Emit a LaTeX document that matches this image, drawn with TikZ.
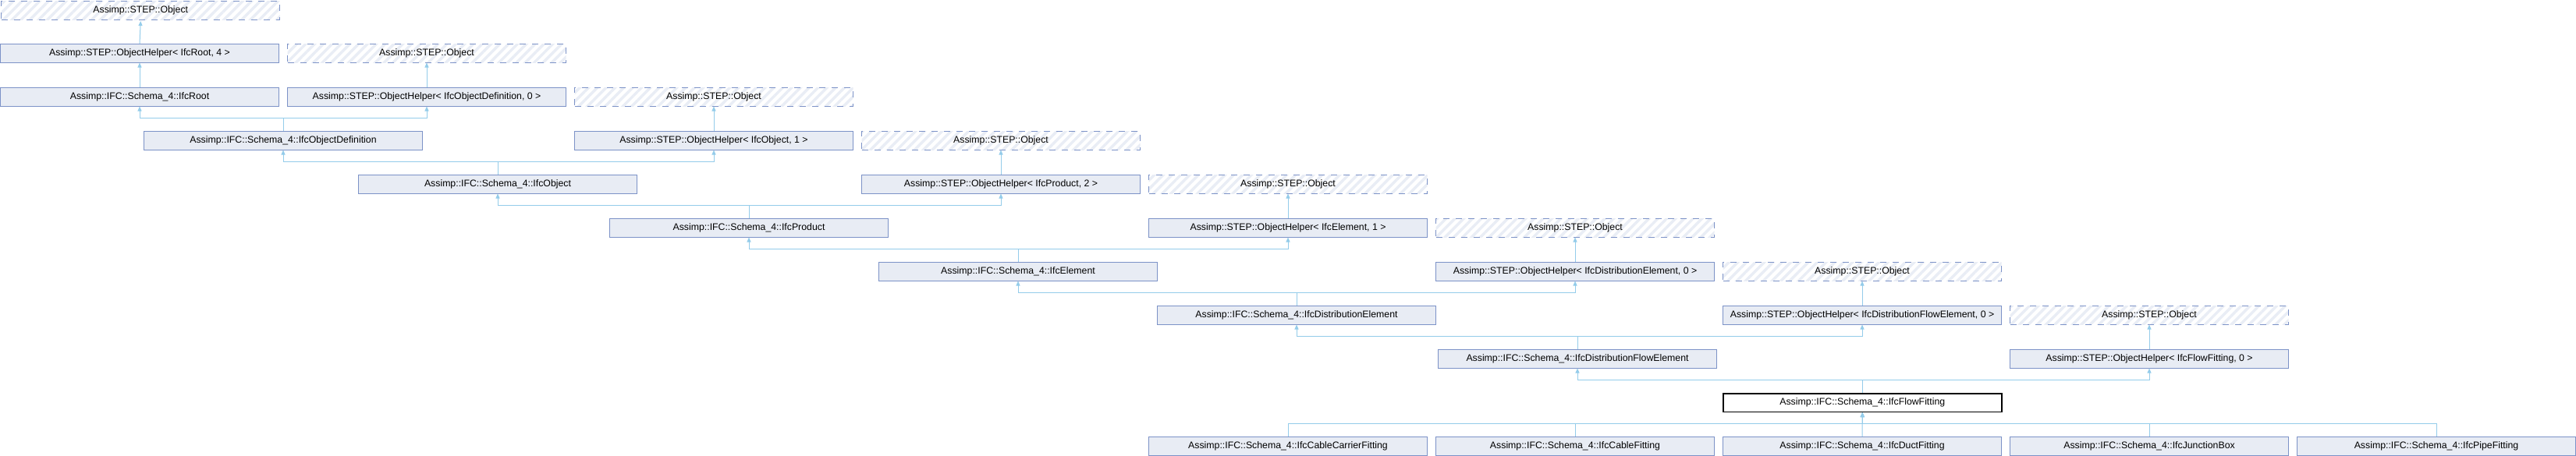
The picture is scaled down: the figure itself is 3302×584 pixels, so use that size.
\documentclass[tikz,border=0pt]{standalone}
\usepackage{fontspec}
\setmainfont{Liberation Sans}
\usepackage{tikz}
\usetikzlibrary{arrows.meta,positioning,calc,patterns.meta}

\definecolor{boxfill}{RGB}{232,236,244}
\definecolor{boxdraw}{RGB}{124,146,199}
\definecolor{edgeblue}{RGB}{148,204,234}
\definecolor{hatch}{RGB}{233,237,245}

\begin{document}
\begin{tikzpicture}[x=1pt,y=-1pt,
  font=\fontsize{12.3}{14}\selectfont,
  box/.style={draw=boxdraw,fill=boxfill,line width=1pt,minimum width=357pt,
    minimum height=23.5pt,inner sep=0pt,anchor=north west},
  extbox/.style={box,fill=none,dash pattern=on 8pt off 8pt,
    pattern={Lines[angle=45,distance=8pt,line width=3.5pt]},pattern color=hatch},
  curbox/.style={box,draw=black,fill=white,line width=1.5pt},
  edge/.style={draw=edgeblue,line width=1pt},
  inh/.style={edge,-{Triangle[width=5pt,length=6pt]}}]
\useasboundingbox (0,0) rectangle (3302,584);

% Row 0-2: roots
\node[extbox] (obj0) at (0,0) {Assimp::STEP::Object};
\node[box] (helperRoot) at (0,56) {Assimp::STEP::ObjectHelper< IfcRoot, 4 >};
\node[extbox] (obj1) at (368,56) {Assimp::STEP::Object};
\node[box] (ifcRoot) at (0,112) {Assimp::IFC::Schema\_4::IfcRoot};
\node[box] (helperObjDef) at (368,112) {Assimp::STEP::ObjectHelper< IfcObjectDefinition, 0 >};
\node[extbox] (obj2) at (736,112) {Assimp::STEP::Object};

% Row 3-5
\node[box] (ifcObjDef) at (184,168) {Assimp::IFC::Schema\_4::IfcObjectDefinition};
\node[box] (helperObject) at (736,168) {Assimp::STEP::ObjectHelper< IfcObject, 1 >};
\node[extbox] (obj3) at (1104,168) {Assimp::STEP::Object};
\node[box] (ifcObject) at (459,224) {Assimp::IFC::Schema\_4::IfcObject};
\node[box] (helperProduct) at (1104,224) {Assimp::STEP::ObjectHelper< IfcProduct, 2 >};
\node[extbox] (obj4) at (1472,224) {Assimp::STEP::Object};
\node[box] (ifcProduct) at (781,280) {Assimp::IFC::Schema\_4::IfcProduct};
\node[box] (helperElement) at (1472,280) {Assimp::STEP::ObjectHelper< IfcElement, 1 >};
\node[extbox] (obj5) at (1840,280) {Assimp::STEP::Object};

% Row 6-8
\node[box] (ifcElement) at (1126,336) {Assimp::IFC::Schema\_4::IfcElement};
\node[box] (helperDistElem) at (1840,336) {Assimp::STEP::ObjectHelper< IfcDistributionElement, 0 >};
\node[extbox] (obj6) at (2208,336) {Assimp::STEP::Object};
\node[box] (ifcDistElem) at (1483,392) {Assimp::IFC::Schema\_4::IfcDistributionElement};
\node[box] (helperDistFlow) at (2208,392) {Assimp::STEP::ObjectHelper< IfcDistributionFlowElement, 0 >};
\node[extbox] (obj7) at (2576,392) {Assimp::STEP::Object};
\node[box] (ifcDistFlow) at (1843,448) {Assimp::IFC::Schema\_4::IfcDistributionFlowElement};
\node[box] (helperFlowFit) at (2576,448) {Assimp::STEP::ObjectHelper< IfcFlowFitting, 0 >};

% Row 9: this class
\node[curbox] (ifcFlowFit) at (2208,504) {Assimp::IFC::Schema\_4::IfcFlowFitting};

% Row 10: derived classes
\node[box] (cableCarrier) at (1472,560) {Assimp::IFC::Schema\_4::IfcCableCarrierFitting};
\node[box] (cableFit) at (1840,560) {Assimp::IFC::Schema\_4::IfcCableFitting};
\node[box] (ductFit) at (2208,560) {Assimp::IFC::Schema\_4::IfcDuctFitting};
\node[box] (junctionBox) at (2576,560) {Assimp::IFC::Schema\_4::IfcJunctionBox};
\node[box] (pipeFit) at (2944,560) {Assimp::IFC::Schema\_4::IfcPipeFitting};

% Helpers up to STEP::Object
\draw[inh] (helperRoot.north) -- (obj0.south);
\draw[inh] (helperObjDef.north) -- (obj1.south);
\draw[inh] (helperObject.north) -- (obj2.south);
\draw[inh] (helperProduct.north) -- (obj3.south);
\draw[inh] (helperElement.north) -- (obj4.south);
\draw[inh] (helperDistElem.north) -- (obj5.south);
\draw[inh] (helperDistFlow.north) -- (obj6.south);
\draw[inh] (helperFlowFit.north) -- (obj7.south);
\draw[inh] (ifcRoot.north) -- (helperRoot.south);

% Two parents each
\draw[inh] (ifcObjDef.north) -- ++(0,-16.25) -| (ifcRoot.south);
\draw[inh] (ifcObjDef.north) -- ++(0,-16.25) -| (helperObjDef.south);
\draw[inh] (ifcObject.north) -- ++(0,-16.25) -| (ifcObjDef.south);
\draw[inh] (ifcObject.north) -- ++(0,-16.25) -| (helperObject.south);
\draw[inh] (ifcProduct.north) -- ++(0,-16.25) -| (ifcObject.south);
\draw[inh] (ifcProduct.north) -- ++(0,-16.25) -| (helperProduct.south);
\draw[inh] (ifcElement.north) -- ++(0,-16.25) -| (ifcProduct.south);
\draw[inh] (ifcElement.north) -- ++(0,-16.25) -| (helperElement.south);
\draw[inh] (ifcDistElem.north) -- ++(0,-16.25) -| (ifcElement.south);
\draw[inh] (ifcDistElem.north) -- ++(0,-16.25) -| (helperDistElem.south);
\draw[inh] (ifcDistFlow.north) -- ++(0,-16.25) -| (ifcDistElem.south);
\draw[inh] (ifcDistFlow.north) -- ++(0,-16.25) -| (helperDistFlow.south);
\draw[inh] (ifcFlowFit.north) -- ++(0,-16.25) -| (ifcDistFlow.south);
\draw[inh] (ifcFlowFit.north) -- ++(0,-16.25) -| (helperFlowFit.south);

% Derived classes
\draw[inh] (cableCarrier.north) -- ++(0,-16.25) -| (ifcFlowFit.south);
\draw[inh] (cableFit.north) -- ++(0,-16.25) -| (ifcFlowFit.south);
\draw[inh] (ductFit.north) -- (ifcFlowFit.south);
\draw[inh] (junctionBox.north) -- ++(0,-16.25) -| (ifcFlowFit.south);
\draw[inh] (pipeFit.north) -- ++(0,-16.25) -| (ifcFlowFit.south);
\end{tikzpicture}
\end{document}
